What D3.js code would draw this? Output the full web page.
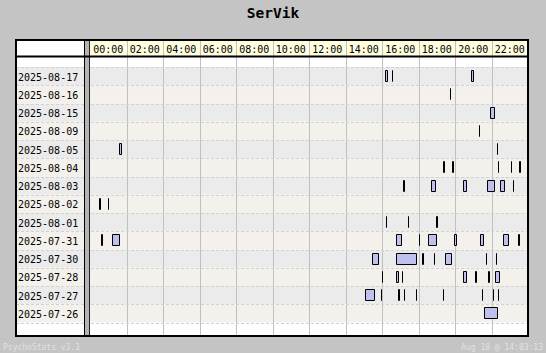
<!DOCTYPE html>
<html>
<head>
<meta charset="utf-8">
<script src="https://cdn.jsdelivr.net/npm/d3@7"></script>
<style>
  body { margin: 0; background: #c4c4c4; }
  text { font-family: "DejaVu Sans Mono", "Liberation Mono", monospace; }
</style>
</head>
<body>
<div id="viz"></div>
<script>
// chart data: days (rows, top to bottom) and the sessions of each day in decimal hours [start, end]
const title = "SerVik";
const days = ["2025-08-17", "2025-08-16", "2025-08-15", "2025-08-09", "2025-08-05", "2025-08-04", "2025-08-03",
  "2025-08-02", "2025-08-01", "2025-07-31", "2025-07-30", "2025-07-28", "2025-07-27", "2025-07-26"];
const hourTicks = [0, 2, 4, 6, 8, 10, 12, 14, 16, 18, 20, 22];
const sessions = [
  [[16.14, 16.26], [16.56, 16.56], [20.90, 21.01]],
  [[19.74, 19.74]],
  [[21.91, 22.15]],
  [[21.33, 21.33]],
  [[1.58, 1.71], [22.32, 22.32]],
  [[19.33, 19.38], [19.81, 19.90], [22.37, 22.37], [23.08, 23.08], [23.49, 23.57]],
  [[17.15, 17.20], [18.67, 18.92], [20.43, 20.61], [21.74, 22.15], [22.45, 22.70], [23.19, 23.19]],
  [[0.49, 0.54], [1.00, 1.00]],
  [[16.20, 16.20], [17.44, 17.44], [18.96, 19.01]],
  [[0.59, 0.65], [1.19, 1.58], [16.76, 17.05], [18.04, 18.04], [18.51, 18.97], [19.96, 20.04], [21.36, 21.52], [22.62, 22.89], [23.45, 23.50]],
  [[15.44, 15.79], [16.76, 17.87], [18.19, 18.24], [18.83, 18.83], [19.44, 19.79], [21.72, 21.72], [22.26, 22.26]],
  [[16.02, 16.02], [16.76, 16.89], [17.11, 17.11], [20.43, 20.61], [21.08, 21.14], [21.80, 21.85], [22.18, 22.40]],
  [[15.06, 15.55], [15.96, 15.96], [16.88, 16.93], [17.22, 17.22], [17.88, 17.88], [19.36, 19.36], [21.50, 21.50], [22.10, 22.10], [22.37, 22.37]],
  [[21.58, 22.29]]
];
const footerLeft = "PsychoStats v3.1";
const footerRight = "Aug 18 @ 14:03:13";

const W = 546, H = 353;
const frame = {left: 16, right: 528, top: 40, bottom: 336};
const labelRight = 84, plotLeft = 90;
const headerBottom = 57, rowsTop = 67, rowsBottom = 322.5;

const svg = d3.select("#viz").append("svg")
  .attr("width", W)
  .attr("height", H);

svg.append("rect").attr("width", W).attr("height", H).attr("fill", "#c4c4c4");

// title
svg.append("text")
  .attr("x", 273).attr("y", 18)
  .attr("text-anchor", "middle")
  .style("font-size", "14.5px").style("font-weight", "bold")
  .text(title);

// scales
const x = d3.scaleLinear().domain([0, 24]).range([plotLeft, frame.right]);
const y = d3.scaleBand().domain(days).range([rowsTop, rowsBottom]).padding(0);

// white frame
svg.append("rect")
  .attr("x", frame.left).attr("y", frame.top)
  .attr("width", frame.right - frame.left).attr("height", frame.bottom - frame.top)
  .attr("fill", "#fff");

// header yellow
svg.append("rect")
  .attr("x", plotLeft).attr("y", frame.top)
  .attr("width", frame.right - plotLeft).attr("height", headerBottom - frame.top)
  .attr("fill", "#ffffe0");

// row backgrounds
svg.selectAll("rect.row")
  .data(days)
  .enter().append("rect")
  .attr("class", "row")
  .attr("x", frame.left).attr("y", d => y(d))
  .attr("width", frame.right - frame.left).attr("height", y.bandwidth())
  .attr("fill", (d, i) => i % 2 === 0 ? "#ebebeb" : "#f4f1ec");

// hour grid lines
svg.selectAll("line.vgrid")
  .data(hourTicks.slice(1))
  .enter().append("line")
  .attr("class", "vgrid")
  .attr("x1", d => Math.round(x(d)) + 0.5).attr("x2", d => Math.round(x(d)) + 0.5)
  .attr("y1", frame.top).attr("y2", frame.bottom)
  .attr("stroke", "#c0c0c0");

// dashed row lines
svg.selectAll("line.hgrid")
  .data(days.map(d => y(d)).concat([rowsBottom]))
  .enter().append("line")
  .attr("class", "hgrid")
  .attr("x1", frame.left).attr("x2", frame.right)
  .attr("y1", d => Math.round(d) + 0.5).attr("y2", d => Math.round(d) + 0.5)
  .attr("stroke", "#d2d2d2")
  .attr("stroke-dasharray", "3,2");

// hour labels
svg.selectAll("text.hour")
  .data(hourTicks)
  .enter().append("text")
  .attr("class", "hour")
  .attr("x", d => x(d + 1))
  .attr("y", 53)
  .attr("text-anchor", "middle")
  .style("font-size", "10px")
  .text(d => d3.format("02")(d) + ":00");

// day labels
svg.selectAll("text.day")
  .data(days)
  .enter().append("text")
  .attr("class", "day")
  .attr("x", 18)
  .attr("y", d => y(d) + y.bandwidth() / 2 + 4.5)
  .style("font-size", "10px")
  .text(d => d);

// separator strip between labels and plot
svg.append("rect")
  .attr("x", labelRight + 1).attr("y", frame.top)
  .attr("width", 4).attr("height", frame.bottom - frame.top)
  .attr("fill", "#b4b4b4");
svg.append("line")
  .attr("x1", labelRight + 0.5).attr("x2", labelRight + 0.5)
  .attr("y1", frame.top).attr("y2", frame.bottom)
  .attr("stroke", "#000");
svg.append("line")
  .attr("x1", plotLeft - 0.5).attr("x2", plotLeft - 0.5)
  .attr("y1", frame.top).attr("y2", frame.bottom)
  .attr("stroke", "#222");

// header bottom line
svg.append("line")
  .attr("x1", frame.left).attr("x2", frame.right)
  .attr("y1", headerBottom - 0.5).attr("y2", headerBottom - 0.5)
  .attr("stroke", "#000").attr("stroke-width", 2);

// sessions (drawn as paths so zero-length sessions still show as a line)
const flat = [];
sessions.forEach((list, i) => list.forEach(s => flat.push({day: days[i], start: s[0], end: s[1]})));

svg.selectAll("path.session")
  .data(flat)
  .enter().append("path")
  .attr("class", "session")
  .attr("d", d => {
    const x0 = Math.round(x(d.start)) + 0.5;
    const w = Math.max(0, Math.round(x(d.end)) - Math.round(x(d.start)));
    const y0 = Math.round(y(d.day) + 3) + 0.5;
    return `M${x0},${y0}h${w}v11h${-w}Z`;
  })
  .attr("fill", "#c0c0ee")
  .attr("stroke", "#000")
  .attr("stroke-width", 1);

// outer border
svg.append("rect")
  .attr("x", frame.left).attr("y", frame.top)
  .attr("width", frame.right - frame.left).attr("height", frame.bottom - frame.top)
  .attr("fill", "none")
  .attr("stroke", "#000").attr("stroke-width", 2);

// footer
svg.append("text")
  .attr("x", 3).attr("y", 350)
  .attr("fill", "#e2e2e2")
  .style("font-size", "8px")
  .text(footerLeft);
svg.append("text")
  .attr("x", 543).attr("y", 350)
  .attr("text-anchor", "end")
  .attr("fill", "#e2e2e2")
  .style("font-size", "8px")
  .text(footerRight);
</script>
</body>
</html>
